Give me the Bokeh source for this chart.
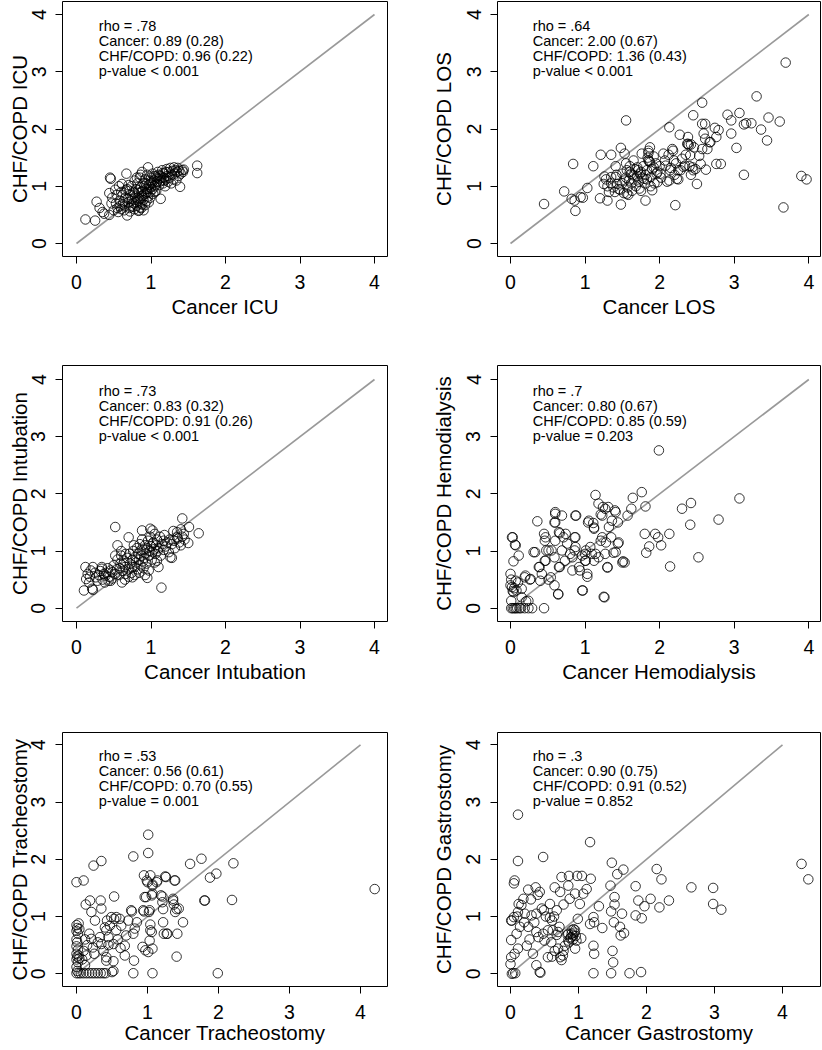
from bokeh.plotting import figure
from bokeh.models import Range1d, FixedTicker
from bokeh.layouts import column, row
from bokeh.embed import file_html
from bokeh.resources import INLINE
from bokeh.core.properties import value

FONT = "Liberation Sans"

# ---------------- data (Cancer value, CHF/COPD value) ----------------
icu_points = [
(0.12,0.42),(0.25,0.40),(0.27,0.73),(0.31,0.62),(0.35,0.55),(0.37,0.52),(0.44,0.50),(0.45,1.15),(0.46,1.13),(0.44,0.88),
(0.48,0.80),(0.47,0.70),(0.50,0.58),(0.52,0.94),(0.55,0.62),(0.56,0.55),(0.58,0.75),(0.60,0.90),(0.61,1.04),(0.62,0.68),
(0.64,0.58),(0.66,0.80),(0.67,1.22),(0.68,0.49),(0.68,0.95),(0.70,0.72),(0.71,0.62),(0.72,0.85),(0.73,0.66),(0.74,1.00),
(0.75,0.78),(0.76,0.90),(0.77,0.70),(0.78,0.60),(0.79,0.82),(0.80,0.95),(0.81,0.66),(0.82,1.05),(0.83,0.75),(0.84,0.58),
(0.84,0.88),(0.85,1.15),(0.86,0.70),(0.86,0.98),(0.87,0.62),(0.88,0.83),(0.88,1.25),(0.89,0.92),(0.90,0.76),(0.90,1.05),
(0.91,1.00),(0.92,0.67),(0.92,1.12),(0.93,0.88),(0.94,0.95),(0.95,1.20),(0.96,1.33),(0.96,0.82),(0.97,1.02),(0.98,1.10),
(0.99,0.90),(1.00,1.15),(1.00,0.98),(1.01,1.05),(1.02,1.22),(1.03,0.87),(1.04,1.10),(1.05,1.00),(1.06,1.17),(1.07,0.92),
(1.08,1.08),(1.09,1.25),(1.10,1.13),(1.11,1.02),(1.12,1.18),(1.13,0.78),(1.14,1.10),(1.15,1.28),(1.16,1.05),(1.17,1.15),
(1.18,1.22),(1.19,1.00),(1.20,1.12),(1.21,1.30),(1.22,1.18),(1.23,1.08),(1.24,1.25),(1.25,1.15),(1.26,1.32),(1.27,1.05),
(1.28,1.20),(1.29,1.27),(1.30,1.12),(1.31,1.33),(1.32,1.22),(1.33,1.28),(1.34,1.10),(1.35,1.25),(1.36,1.32),(1.37,1.18),
(1.38,1.27),(1.39,0.99),(1.40,1.22),(1.42,1.28),(1.43,1.25),(1.44,1.29),(1.62,1.36),(1.62,1.23),
(0.58,0.65),(0.60,0.60),(0.63,0.72),(0.65,0.66),(0.69,0.78),(0.71,0.92),(0.72,0.56),(0.74,0.75),(0.76,0.64),(0.78,0.88),
(0.80,0.72),(0.82,0.80),(0.83,0.93),(0.85,0.78),(0.87,0.90),(0.89,0.80),(0.91,0.86),(0.93,1.05),(0.94,0.74),(0.95,0.90),
(0.97,0.95),(0.98,1.03),(1.00,1.08),(1.02,0.95),(1.04,1.18),(1.06,1.03),(1.08,1.15),(1.10,1.20),(1.12,1.08),(1.14,1.15),
(1.16,1.23),(1.18,1.10),(1.20,1.25),(0.83,0.57),(0.85,0.63),(0.88,0.68),(0.90,0.58),(0.97,0.72),(0.99,0.80),(1.05,0.90),
(0.54,0.85),(0.57,1.00),(0.53,0.70),(0.62,0.85),(0.66,0.93),(0.70,1.02),(0.78,1.10),(0.81,1.15),(0.86,1.20)]

los_points = [
(0.45,0.69),(0.72,0.91),(0.84,1.39),(0.82,0.78),(0.87,0.57),(0.86,0.75),(0.94,0.81),(0.97,0.80),(1.03,0.97),(1.11,1.35),
(1.21,1.55),(1.35,1.55),(1.20,0.79),(1.30,0.75),(1.25,1.04),(1.26,1.17),(1.35,1.16),(1.48,0.68),(1.48,1.67),(1.55,2.15),
(1.53,1.57),(1.41,1.35),(1.47,0.94),(1.56,0.87),(1.53,1.10),(1.62,1.22),(1.71,1.28),(1.76,1.57),(1.81,0.75),(1.87,1.68),
(1.87,1.42),(1.90,0.93),(1.96,1.22),(2.07,1.45),(2.13,2.03),(2.18,1.62),(2.21,0.67),(2.13,1.10),(2.27,1.90),(2.25,1.28),
(2.34,1.36),(2.38,1.86),(2.38,1.74),(2.42,1.73),(2.45,2.24),(2.50,1.04),(2.53,1.53),(2.57,2.46),(2.57,2.09),(2.61,2.09),
(2.61,1.83),(2.57,1.65),(2.62,1.29),(2.67,1.77),(2.74,2.02),(2.76,1.86),(2.76,1.39),(2.79,1.98),(2.82,1.39),(2.91,2.25),
(2.96,2.15),(2.96,1.92),(3.03,1.67),(3.07,2.28),(3.13,1.20),(3.13,2.08),(3.16,2.10),(3.23,2.10),(3.30,2.57),(3.36,1.99),
(3.44,1.80),(3.46,2.20),(3.61,2.13),(3.66,0.63),(3.69,3.16),(3.90,1.18),(3.97,1.12),
(1.41,1.16),(1.43,1.04),(1.50,1.22),(1.56,1.28),(1.59,1.10),(1.65,1.19),(1.70,1.33),(1.74,1.22),(1.79,1.13),(1.83,1.28),
(1.85,1.62),(1.85,1.45),(1.88,1.16),(1.92,1.33),(1.97,1.07),(2.01,1.22),(2.05,1.57),(2.08,1.36),(2.14,1.28),(2.17,1.65),
(2.19,1.45),(2.23,1.13),(2.28,1.28),(2.30,1.48),(2.32,1.34),(2.37,1.74),(2.39,1.72),(2.41,1.54),(2.44,1.33),(2.46,1.68),
(2.55,1.39),(2.59,1.92),(2.64,1.65),(2.68,1.77),
(1.45,0.95),(1.50,1.05),(1.52,0.88),(1.55,1.15),(1.57,0.98),(1.60,1.25),(1.62,1.05),(1.63,0.92),(1.65,1.12),(1.67,1.30),
(1.68,1.00),(1.70,1.18),(1.72,1.08),(1.73,0.96),(1.75,1.25),(1.77,1.15),(1.78,1.35),(1.80,1.05),(1.81,1.20),(1.83,1.12),
(1.84,1.50),(1.85,1.58),(1.86,1.44),(1.88,1.00),(1.90,1.30),(1.92,1.52),(1.93,1.05),(1.95,1.40),(1.97,1.25),(2.00,1.35),
(2.02,1.15),(2.10,1.08),(2.12,1.55),(2.15,1.32),(2.20,1.20),(2.22,1.40),(2.25,1.12),(2.35,1.55),(2.40,1.35),(2.42,1.20),
(2.45,1.28),(2.48,1.30),(1.35,1.05),(1.38,0.98),(1.40,0.90),(1.42,1.20),(1.30,1.00),(1.32,0.90),(1.28,1.12),(1.55,1.40),
(1.60,1.35),(1.65,1.45),(1.75,0.92),(1.58,0.85)]

intubation_points = [
(0.10,0.31),(0.21,0.34),(0.12,0.72),(0.13,0.51),(0.19,0.66),(0.22,0.32),(0.17,0.45),(0.28,0.48),(0.34,0.72),(0.37,0.60),
(0.46,0.48),(0.52,1.42),(0.55,1.10),(0.52,0.92),(0.64,0.83),(0.70,1.24),(0.75,0.54),(0.88,1.36),(0.95,0.53),(1.02,1.36),
(1.10,0.72),(1.14,0.36),(1.28,0.88),(1.42,1.57),(1.51,1.42),(1.50,1.14),(1.64,1.31),(1.40,1.10),(1.31,1.18),(1.35,1.33),
(0.26,0.54),(0.34,0.69),(0.39,0.57),(0.43,0.48),(0.48,0.63),(0.59,0.78),(0.61,0.45),(0.66,0.95),(0.75,0.72),(0.77,1.10),
(0.86,1.01),(0.99,1.39),(1.02,1.13),(1.08,0.83),(1.17,1.18),(1.26,0.89),(1.35,1.24),(1.44,1.30),
(0.40,0.62),(0.42,0.70),(0.44,0.55),(0.46,0.66),(0.48,0.52),(0.50,0.75),(0.52,0.60),(0.54,0.68),(0.55,0.85),(0.57,0.58),
(0.58,0.70),(0.60,0.92),(0.62,0.65),(0.63,0.78),(0.65,0.72),(0.66,0.60),(0.68,0.88),(0.70,0.68),(0.71,0.95),(0.72,0.78),
(0.74,0.62),(0.75,0.85),(0.76,1.00),(0.78,0.72),(0.79,0.90),(0.80,0.80),(0.81,1.05),(0.82,0.68),(0.83,0.95),(0.84,0.85),
(0.85,1.12),(0.86,0.75),(0.87,0.92),(0.88,1.20),(0.89,0.82),(0.90,1.02),(0.91,0.88),(0.92,1.10),(0.93,0.96),(0.94,0.78),
(0.95,1.05),(0.96,1.18),(0.97,0.92),(0.98,1.00),(0.99,1.25),(1.00,1.08),(1.01,0.85),(1.02,0.98),(1.03,1.15),(1.04,1.03),
(1.05,1.30),(1.06,0.95),(1.07,1.10),(1.08,1.20),(1.09,1.00),(1.10,1.05),(1.12,1.25),(1.13,0.92),(1.15,1.12),(1.17,1.02),
(1.18,1.28),(1.20,1.08),(1.22,1.15),(1.24,0.98),(1.25,1.20),(1.28,1.12),(1.30,1.35),(1.32,1.05),(1.36,1.22),(1.38,1.15),
(1.40,1.38),(1.42,1.25),(1.45,1.20),(0.30,0.58),(0.32,0.65),(0.35,0.50),(0.38,0.45),(0.15,0.60),(0.18,0.55),(0.22,0.72),
(0.25,0.62),(0.60,1.00),(0.65,0.50),(0.70,0.55),(0.78,0.58),(0.84,0.62),(0.90,0.70),(0.97,0.66),(1.05,0.80),(0.92,0.58)]

hemodialysis_points = [
(1.99,2.76),(1.76,2.03),(3.07,1.92),(2.42,1.84),(2.30,1.74),(2.41,1.46),(2.79,1.55),(2.52,0.89),(1.81,1.78),(1.64,1.93),
(1.62,1.74),(1.57,1.62),(1.44,1.50),(1.40,1.71),(1.31,1.77),(1.24,1.77),(1.18,1.83),(1.14,1.98),(1.21,1.64),(1.11,1.49),
(1.12,1.39),(1.04,1.50),(0.88,1.62),(0.86,1.24),(0.71,1.24),(0.66,1.31),(0.60,1.65),(0.69,1.62),(0.59,1.50),(0.36,1.52),
(0.45,1.30),(0.46,1.18),(0.33,0.98),(0.03,1.24),(0.06,1.11),(0.11,0.92),(0.04,0.82),(0.00,0.60),(0.01,0.50),(0.07,0.48),
(0.19,0.54),(0.26,0.50),(0.15,0.34),(0.21,0.12),(0.45,0.00),(0.29,0.00),(0.01,0.00),(0.05,0.00),(0.09,0.00),(0.14,0.00),
(0.19,0.00),(0.24,0.00),(0.03,0.00),(0.07,0.00),(0.12,0.00),(0.64,0.25),(0.97,0.31),(1.26,0.19),(1.30,0.71),(1.53,0.80),
(1.51,0.82),(1.38,0.97),(1.44,1.13),(1.35,1.24),(1.28,1.15),(1.80,1.30),(1.82,0.97),(1.86,1.08),(1.94,1.30),(1.98,1.24),
(2.02,1.10),(2.13,1.30),(2.14,0.73),(1.03,0.55),(0.93,0.66),(1.00,0.95),(1.00,0.83),(1.09,0.95),(1.18,0.89),(1.12,0.83),
(0.80,0.95),(0.86,1.01),(0.73,0.83),(0.66,0.72),(0.59,0.89),(0.55,1.01),(0.48,1.01),(0.46,0.83),(0.39,0.72),(0.51,0.50),
(0.59,0.40),(0.42,0.60),(0.02,0.37),(0.04,0.28),(0.08,0.31),(0.01,0.13),(0.15,0.19),(0.24,0.13),
(0.60,1.68),(0.87,1.62),(0.60,1.50),(0.47,1.24),(0.65,1.33),(0.74,1.30),(0.87,1.24),(1.05,1.53),(1.12,1.41),(1.23,1.62),
(1.27,1.74),(1.41,1.68),(1.36,1.53),(1.32,1.42),(1.21,1.18),(1.23,1.24),(1.07,1.07),(1.01,1.01),(0.96,0.92),(0.87,1.07),
(0.83,0.89),(0.76,1.13),(0.69,1.01),(0.60,1.18),(0.51,1.01),(0.47,0.83),(0.38,0.72),(0.31,0.98),(0.20,0.57),(0.27,0.51),
(0.40,0.48),(0.54,0.54),(0.65,0.72),(0.83,0.66),(0.92,0.72),(1.03,0.60),(1.01,0.83),(1.14,0.95),(1.27,0.95),(1.30,0.72),
(1.41,0.98),(1.45,1.15),(1.50,0.80),(0.96,0.31),(0.64,0.24),(1.25,0.20),(0.02,1.24),(0.07,1.10),(0.00,0.40),(0.05,0.35),
(0.10,0.45),(0.03,0.30)]

tracheostomy_points = [
(4.20,1.48),(0.00,1.60),(0.10,1.63),(0.24,1.89),(0.35,1.97),(0.80,2.05),(1.01,2.43),(1.01,2.11),(1.60,1.92),(1.76,2.01),
(2.21,1.93),(1.88,1.68),(1.97,1.75),(1.80,1.28),(2.19,1.29),(1.99,0.01),(0.95,1.72),(1.04,1.72),(1.25,1.70),(1.39,1.63),
(1.14,1.63),(1.00,1.60),(1.07,1.54),(0.98,1.34),(1.07,1.40),(1.21,1.35),(1.21,1.25),(1.36,1.31),(1.37,1.21),(1.39,1.08),
(1.44,1.14),(1.50,0.90),(1.22,0.90),(1.23,0.70),(1.28,0.70),(1.42,0.70),(1.41,0.30),(1.07,0.44),(1.07,0.01),(0.80,0.01),
(0.53,1.35),(0.34,1.28),(0.19,1.28),(0.13,1.21),(0.35,1.14),(0.21,1.08),(0.26,0.93),(0.53,0.96),(0.78,1.09),(0.95,1.09),
(1.02,1.08),(1.04,0.76),(1.04,0.86),(1.03,0.58),(0.93,0.47),(0.97,0.41),(0.81,0.23),(0.52,0.22),(0.42,0.23),(0.50,0.03),
(0.38,0.01),
(0.00,0.01),(0.03,0.01),(0.06,0.01),(0.10,0.01),(0.14,0.01),(0.18,0.01),(0.22,0.01),(0.26,0.01),(0.30,0.01),
(0.00,0.85),(0.01,0.80),(0.00,0.75),(0.02,0.70),(0.00,0.60),(0.01,0.55),(0.00,0.48),(0.02,0.42),(0.00,0.35),(0.01,0.30),
(0.00,0.25),(0.02,0.20),(0.00,0.12),(0.01,0.05),(0.03,0.88),(0.04,0.78),(0.03,0.32),(0.04,0.27),
(0.43,0.93),(0.49,0.99),(0.61,0.96),(0.73,0.93),(0.77,1.11),(0.85,0.90),(0.94,1.11),(0.96,1.34),(1.06,1.37),(1.03,1.11),
(1.06,0.73),(1.01,0.38),(0.68,0.32),(0.42,0.29),(0.42,0.76),(0.56,0.76),(0.70,0.67),(0.80,0.70),(0.82,0.79),(0.68,0.49),
(0.52,0.52),(0.35,0.52),(0.23,0.46),(0.14,0.32),(0.21,0.61),(0.33,0.64),(0.45,0.64),(0.56,0.99),(0.63,0.84),(0.47,0.84),
(0.40,0.81),(1.27,0.70),(1.22,1.13),(1.36,1.28),(1.41,1.13),(1.19,1.37),(1.13,1.60),(1.26,1.69),(1.38,1.63),(1.07,1.56),
(0.99,1.63),(1.81,1.28),(0.52,0.05),(0.41,0.01),(0.34,0.01),
(0.10,0.40),(0.12,0.60),(0.15,0.50),(0.18,0.70),(0.25,0.35),(0.30,0.55),(0.38,0.40),(0.45,0.50),(0.58,0.60),(0.62,0.45),
(0.08,0.25),(0.12,0.15)]

gastrostomy_points = [
(0.11,2.78),(0.11,1.97),(0.48,2.04),(1.17,2.30),(4.28,1.92),(4.38,1.65),(2.98,1.50),(2.98,1.22),(3.10,1.12),(2.66,1.51),
(2.33,1.28),(2.19,1.16),(2.22,1.65),(2.15,1.83),(2.06,1.31),(1.97,1.18),(1.93,0.97),(1.88,1.28),(1.84,1.53),(1.84,1.02),
(1.49,1.94),(1.66,1.82),(1.57,1.74),(1.47,1.54),(1.53,1.34),(1.53,1.21),(1.48,1.09),(1.64,1.05),(1.61,0.82),(1.62,0.67),
(1.67,0.71),(1.52,0.90),(1.35,0.80),(1.30,1.18),(1.22,0.99),(1.23,0.90),(1.17,0.87),(1.22,0.49),(1.23,0.35),(1.22,0.01),
(1.48,0.01),(1.75,0.01),(1.92,0.03),(1.51,0.20),(1.50,0.40),(1.04,0.62),(0.99,0.96),(1.02,1.22),(1.07,1.40),(1.12,1.48),
(1.18,1.66),(1.05,1.71),(0.98,1.71),(0.86,1.71),(0.75,1.69),(0.85,1.54),(0.95,1.40),(0.87,1.31),(0.78,1.21),(0.65,1.51),
(0.73,1.43),(0.68,1.11),(0.58,1.22),(0.49,1.11),(0.43,1.43),(0.37,1.51),(0.26,1.47),(0.19,1.31),(0.12,1.22),(0.06,1.63),
(0.05,1.58),(0.01,0.93),(0.05,0.99),(0.11,1.08),(0.21,1.05),(0.31,1.02),(0.38,1.05),(0.46,1.14),(0.61,0.93),(0.62,0.76),
(0.70,0.73),(0.48,0.70),(0.38,0.73),(0.41,0.64),(0.26,0.82),(0.14,0.82),(0.09,0.70),(0.01,0.59),(0.11,0.44),(0.24,0.49),
(0.33,0.35),(0.38,0.15),(0.43,0.03),(0.00,0.17),(0.01,0.29),(0.06,0.35),(0.04,0.01),(0.07,0.01),(0.55,0.29),(0.61,0.30),
(0.73,0.29),(0.77,0.32),(0.75,0.24),(0.70,0.44),(0.80,0.49),(0.85,0.58),(0.89,0.64),(0.92,0.67),(0.95,0.76),(0.97,0.58),
(0.90,0.76),(0.85,0.70),(0.95,0.44),(0.55,0.76),(0.50,0.58),
(0.88,0.62),(0.90,0.70),(0.92,0.60),(0.94,0.72),(0.96,0.66),(0.86,0.55),(0.84,0.68),(0.93,0.78),(0.44,0.02),(0.02,0.00),
(0.02,0.93),(0.16,1.20),(0.20,0.90),(0.28,0.60),(0.35,0.90),(0.52,1.00),(0.58,0.98),(0.64,1.00),(0.68,0.68),(0.72,0.82),
(0.30,1.30),(0.10,1.00),(0.40,1.38),(0.65,0.40),(0.78,0.40),(0.60,0.55)]

measures = ["ICU", "LOS", "Intubation", "Hemodialysis", "Tracheostomy", "Gastrostomy"]
rho_values = [".78", ".64", ".73", ".7", ".53", ".3"]
cancer_stats = ["0.89 (0.28)", "2.00 (0.67)", "0.83 (0.32)", "0.80 (0.67)", "0.56 (0.61)", "0.90 (0.75)"]
chf_stats = ["0.96 (0.22)", "1.36 (0.43)", "0.91 (0.26)", "0.85 (0.59)", "0.70 (0.55)", "0.91 (0.52)"]
p_values = ["< 0.001", "< 0.001", "< 0.001", "= 0.203", "= 0.001", "= 0.852"]
all_points = [icu_points, los_points, intubation_points, hemodialysis_points,
              tracheostomy_points, gastrostomy_points]
axis_ticks = [0, 1, 2, 3, 4]

# ---------------- layout geometry (page pixels) ----------------
COLS = [dict(width=411, left=62, right=24, f0=62, f1=387, ylab_standoff=-2),
        dict(width=411, left=86, right=2, f0=497, f1=820, ylab_standoff=9)]
ROWS = [dict(height=326, top=1, bottom=70, f0=1, f1=256, t0=243.0, t4=14.0, xlab_standoff=3),
        dict(height=365, top=39, bottom=70, f0=365, f1=621, t0=607.7, t4=379.0, xlab_standoff=3),
        dict(height=359, top=41, bottom=64, f0=732, f1=986, t0=973.3, t4=744.3, xlab_standoff=-1)]
# pixel positions of x=0 and x=4 ticks for each panel
XTICK_PX = [(76, 374), (510, 808.3), (76, 374), (510, 808.3), (76, 360), (510, 782)]


def make_panel(i):
    c = COLS[i % 2]
    r = ROWS[i // 2]
    x0px, x4px = XTICK_PX[i]
    ux = (x4px - x0px) / 4.0
    uy = (r["t0"] - r["t4"]) / 4.0
    xr = Range1d(-(x0px - c["f0"]) / ux, (c["f1"] - x0px) / ux)
    yr = Range1d(-(r["f1"] - r["t0"]) / uy, (r["t0"] - r["f0"]) / uy)

    p = figure(width=c["width"], height=r["height"], x_range=xr, y_range=yr,
               output_backend="svg", toolbar_location=None,
               min_border_left=c["left"], min_border_right=c["right"],
               min_border_top=r["top"], min_border_bottom=r["bottom"])
    p.background_fill_color = "white"
    p.border_fill_color = "white"
    p.outline_line_color = "black"
    p.outline_line_width = 1
    p.outline_line_alpha = 1
    p.grid.visible = False

    for ax in (p.xaxis[0], p.yaxis[0]):
        ax.ticker = FixedTicker(ticks=axis_ticks)
        ax.axis_line_color = None
        ax.major_tick_out = 7
        ax.major_tick_in = 0
        ax.major_tick_line_color = "black"
        ax.minor_tick_line_color = None
        ax.major_label_text_font = FONT
        ax.major_label_text_font_size = "19.5px"
        ax.major_label_text_color = "black"
        ax.axis_label_text_font = FONT
        ax.axis_label_text_font_size = "20.5px"
        ax.axis_label_text_font_style = "normal"
        ax.axis_label_text_color = "black"

    p.xaxis.axis_label = "Cancer " + measures[i]
    p.yaxis.axis_label = "CHF/COPD " + measures[i]
    p.xaxis.major_label_standoff = 11
    p.xaxis.axis_label_standoff = r["xlab_standoff"]
    p.yaxis.major_label_orientation = "vertical"
    p.yaxis.major_label_standoff = 10
    p.yaxis.axis_label_standoff = c["ylab_standoff"]

    pts = all_points[i]
    xs = [q[0] for q in pts]
    ys = [q[1] for q in pts]
    p.line([0, 4], [0, 4], line_color="#999999", line_width=1.6)
    p.scatter(xs, ys, marker="circle", size=9.5, fill_color=None,
              line_color="black", line_width=0.8)

    lines = ["rho = " + rho_values[i],
             "Cancer: " + cancer_stats[i],
             "CHF/COPD: " + chf_stats[i],
             "p-value " + p_values[i]]
    offs = [11, 26, 41, 56]
    tx = [22.3 / ux] * 4
    ty = [4 - o / uy for o in offs]
    p.text(x=tx, y=ty, text=lines, text_font=value(FONT), text_font_size="14.5px",
           text_baseline="middle", text_align="left", text_color="black")
    return p


panels = [make_panel(i) for i in range(6)]
layout = column(row(panels[0], panels[1]), row(panels[2], panels[3]), row(panels[4], panels[5]))

open("out.html", "w").write(file_html(layout, INLINE))
